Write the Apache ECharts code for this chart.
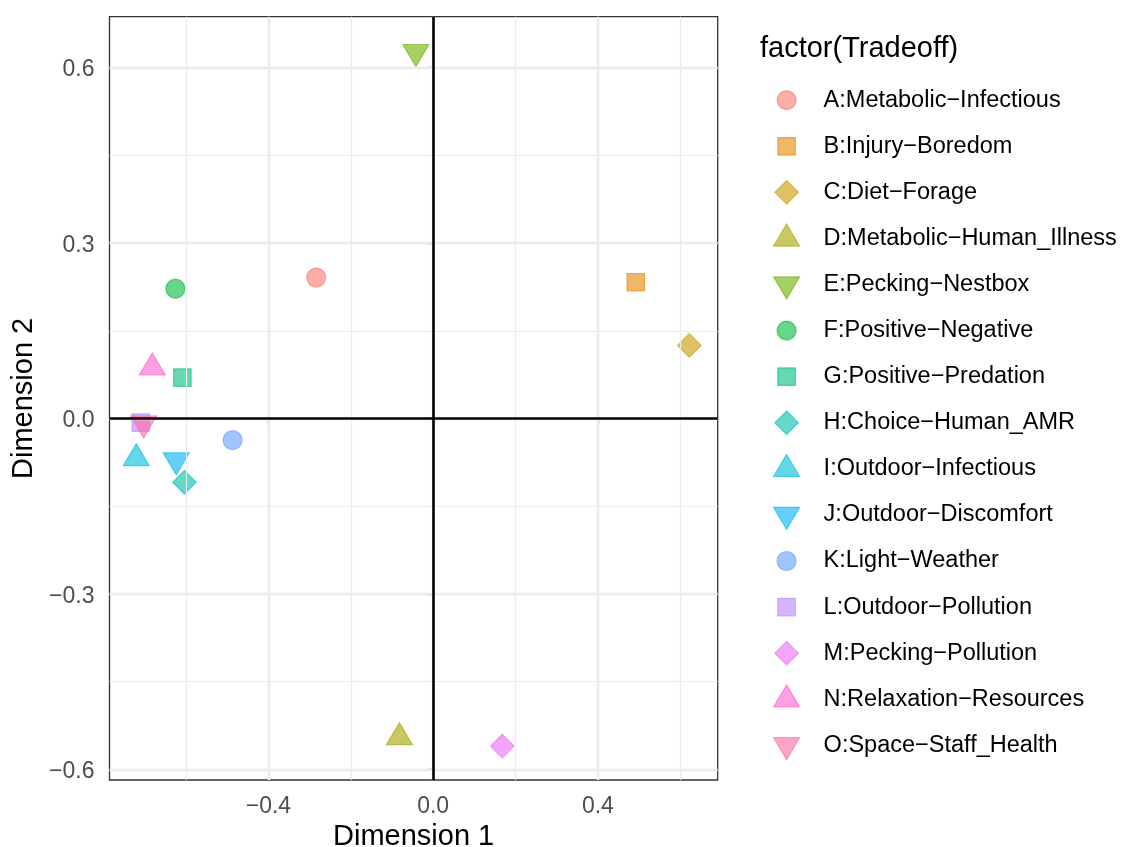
<!DOCTYPE html>
<html>
<head>
<meta charset="utf-8">
<script src="https://cdn.jsdelivr.net/npm/echarts@6/dist/echarts.min.js"></script>
<style>
html,body{margin:0;padding:0;background:#fff;}
#chart{width:1125px;height:847px;}
</style>
</head>
<body>
<div id="chart"></div>
<script>
// ---- data ----
const names = [
  'A:Metabolic-Infectious','B:Injury-Boredom','C:Diet-Forage','D:Metabolic-Human_Illness',
  'E:Pecking-Nestbox','F:Positive-Negative','G:Positive-Predation','H:Choice-Human_AMR',
  'I:Outdoor-Infectious','J:Outdoor-Discomfort','K:Light-Weather','L:Outdoor-Pollution',
  'M:Pecking-Pollution','N:Relaxation-Resources','O:Space-Staff_Health'
];
const dim1 = [-0.284, 0.492, 0.622, -0.082, -0.042, -0.626, -0.609, -0.604, -0.721, -0.624, -0.487, -0.710, 0.168, -0.682, -0.703];
const dim2 = [0.241, 0.233, 0.125, -0.545, 0.627, 0.222, 0.070, -0.109, -0.068, -0.071, -0.037, -0.007, -0.560, 0.087, -0.008];
const colors = ['#F8766D','#E58700','#C99800','#A3A500','#6BB100','#00BA38','#00BF7D','#00C0AF',
                '#00BCD8','#00B0F6','#619CFF','#B983FF','#E76BF3','#FD61D1','#FF67A4'];
const xTicks = [-0.4, 0, 0.4];
const xMinor = [-0.6, -0.2, 0.2, 0.6];
const yTicks = [-0.6, -0.3, 0, 0.3, 0.6];
const yMinor = [-0.45, -0.15, 0.15, 0.45];
const xTitle = 'Dimension 1';
const yTitle = 'Dimension 2';
const legendTitle = 'factor(Tradeoff)';

// ---- styling helpers ----
const FONT = "'Liberation Sans', Arial, Helvetica, sans-serif";
const ALPHA = 0.6;
function rgba(hex, a) {
  const n = parseInt(hex.slice(1), 16);
  return 'rgba(' + ((n >> 16) & 255) + ',' + ((n >> 8) & 255) + ',' + (n & 255) + ',' + a + ')';
}
const shapeCycle = ['circle', 'rect', 'diamond', 'up', 'down'];
function symbolFor(i) {
  const s = shapeCycle[i % 5];
  if (s === 'circle') return {symbol: 'circle', symbolSize: 19, symbolRotate: 0, symbolOffset: [0, 0]};
  if (s === 'rect') return {symbol: 'rect', symbolSize: 17.5, symbolRotate: 0, symbolOffset: [0, 0]};
  if (s === 'diamond') return {symbol: 'diamond', symbolSize: 23.5, symbolRotate: 0, symbolOffset: [0, 0]};
  if (s === 'up') return {symbol: 'triangle', symbolSize: [26, 22], symbolRotate: 0, symbolOffset: [0, -22 / 6]};
  return {symbol: 'triangle', symbolSize: [26, 22], symbolRotate: 180, symbolOffset: [0, 22 / 6]};
}
// legend key icons drawn in a common 30x30 frame (frame corners fix the scale)
const FRAME = 'M0,0 M30,30 ';
const legendIcons = {
  circle: 'path://' + FRAME + 'M5.5,15 A9.5,9.5 0 1,0 24.5,15 A9.5,9.5 0 1,0 5.5,15 Z',
  rect: 'path://' + FRAME + 'M6.25,6.25 L23.75,6.25 L23.75,23.75 L6.25,23.75 Z',
  diamond: 'path://' + FRAME + 'M15,3.25 L26.75,15 L15,26.75 L3.25,15 Z',
  up: 'path://' + FRAME + 'M15,0.6 L28,22.6 L2,22.6 Z',
  down: 'path://' + FRAME + 'M15,29.4 L28,7.4 L2,7.4 Z'
};
const minus = s => s.replace(/-/g, '\u2212');
const fmtTick = v => minus(Number(v).toFixed(1));

const series = [];
// grid lines (minor, major) and zero reference lines
series.push({
  type: 'scatter', name: '_grid', data: [], silent: true, z: 1,
  markLine: {
    silent: true, symbol: 'none', label: {show: false}, animation: false,
    data: [].concat(
      xMinor.map(v => ({xAxis: v, lineStyle: {color: '#EBEBEB', width: 1.2, type: 'solid'}})),
      yMinor.map(v => ({yAxis: v, lineStyle: {color: '#EBEBEB', width: 1.2, type: 'solid'}})),
      xTicks.map(v => ({xAxis: v, lineStyle: {color: '#EBEBEB', width: 2.4, type: 'solid'}})),
      yTicks.map(v => ({yAxis: v, lineStyle: {color: '#EBEBEB', width: 2.4, type: 'solid'}}))
    )
  }
});
series.push({
  type: 'scatter', name: '_zero', data: [], silent: true, z: 2,
  markLine: {
    silent: true, symbol: 'none', label: {show: false}, animation: false,
    data: [{xAxis: 0}, {yAxis: 0}],
    lineStyle: {color: '#000000', width: 2.6, type: 'solid'}
  }
});
names.forEach((nm, i) => {
  const sym = symbolFor(i);
  series.push(Object.assign({
    type: 'scatter', name: nm, z: 3,
    data: [[dim1[i], dim2[i]]],
    itemStyle: {color: rgba(colors[i], ALPHA), borderColor: rgba(colors[i], ALPHA), borderWidth: 1.2, opacity: 1},
    emphasis: {disabled: true}
  }, sym));
});

const chart = echarts.init(document.getElementById('chart'), null, {renderer: 'canvas'});
chart.setOption({
  animation: false,
  backgroundColor: '#ffffff',
  textStyle: {fontFamily: FONT},
  grid: {left: 109.5, right: 407.3, top: 16.7, bottom: 67, show: true,
         outerBoundsMode: 'none', containLabel: false,
         borderColor: '#333333', borderWidth: 1.3, backgroundColor: 'transparent'},
  xAxis: {
    type: 'value', min: -0.786, max: 0.691,
    name: xTitle, nameLocation: 'middle', nameGap: 40,
    nameTextStyle: {fontSize: 29, color: '#000000', fontFamily: FONT},
    axisLine: {show: false},
    axisTick: {show: true, length: 6, lineStyle: {color: '#333333', width: 1.3}, customValues: xTicks},
    axisLabel: {show: true, margin: 15, fontSize: 23, color: '#4D4D4D', fontFamily: FONT,
                customValues: xTicks, formatter: fmtTick},
    splitLine: {show: false}
  },
  yAxis: {
    type: 'value', min: -0.618, max: 0.687,
    name: yTitle, nameLocation: 'middle', nameGap: 69,
    nameTextStyle: {fontSize: 29, color: '#000000', fontFamily: FONT},
    axisLine: {show: false},
    axisTick: {show: true, length: 6, lineStyle: {color: '#333333', width: 1.3}, customValues: yTicks},
    axisLabel: {show: true, margin: 15, fontSize: 23, color: '#4D4D4D', fontFamily: FONT,
                verticalAlign: 'top', lineHeight: 4.6,
                customValues: yTicks, formatter: fmtTick},
    splitLine: {show: false}
  },
  legend: {
    orient: 'vertical', left: 766, top: 79.6,
    data: names.map((nm, i) => ({name: nm, icon: legendIcons[shapeCycle[i % 5]]})),
    itemWidth: 64, itemHeight: 30, itemGap: 14.88,
    symbolKeepAspect: true, symbolRotate: 0,
    formatter: minus,
    selectedMode: false,
    textStyle: {fontSize: 23.5, color: '#000000', fontFamily: FONT},
    itemStyle: {borderWidth: 1.2}
  },
  graphic: [{
    type: 'text', left: 760, top: 34,
    style: {text: legendTitle, font: '29px ' + FONT, fill: '#000000'}
  }],
  series: series
});
</script>
</body>
</html>
